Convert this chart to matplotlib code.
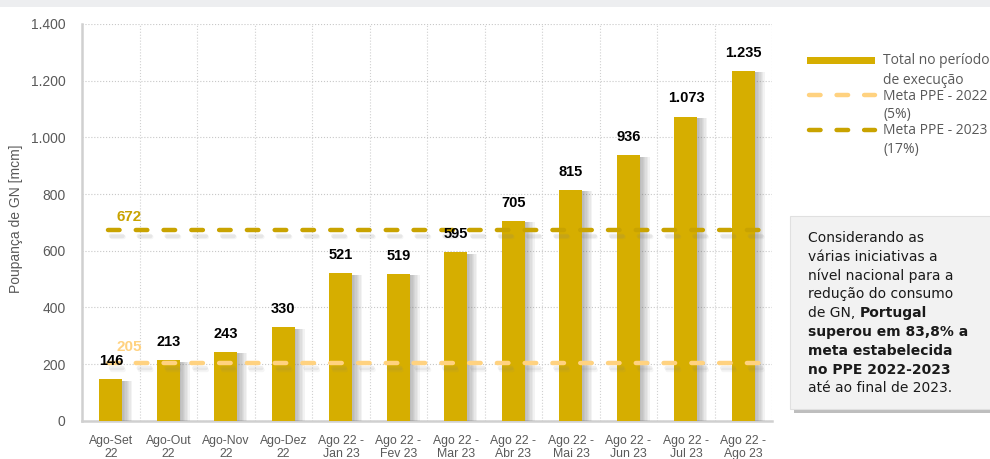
import matplotlib
matplotlib.use("Agg")
import matplotlib.pyplot as plt
import matplotlib.patheffects as pe
from matplotlib.patches import Rectangle
from matplotlib.lines import Line2D
from matplotlib.text import Annotation
from matplotlib.ticker import FuncFormatter

# data
categories = ["Ago-Set\n22", "Ago-Out\n22", "Ago-Nov\n22", "Ago-Dez\n22",
              "Ago 22 -\nJan 23", "Ago 22 -\nFev 23", "Ago 22 -\nMar 23",
              "Ago 22 -\nAbr 23", "Ago 22 -\nMai 23", "Ago 22 -\nJun 23",
              "Ago 22 -\nJul 23", "Ago 22 -\nAgo 23"]
totals = [146, 213, 243, 330, 521, 519, 595, 705, 815, 936, 1073, 1235]
meta_2022 = 205
meta_2023 = 672
legend_lines = ["Total no período", "de execução", "Meta PPE - 2022", "(5%)",
                "Meta PPE - 2023", "(17%)"]

BAR_COLOR  = "#D6AE00"
M22_COLOR  = "#FFD280"
M23_COLOR  = "#C9A300"
GRAY_TEXT  = "#595959"
H, W = 459, 990

plt.rcParams["font.family"] = ["Liberation Sans", "DejaVu Sans"]


def thousands(v, _pos=None):
    return f"{int(v):,}".replace(",", ".")


def fy(py):
    return 1 - py / H


fig = plt.figure(figsize=(9.9, 4.59), dpi=100)
ax = fig.add_axes([0.083, 0.083, 0.697, 0.865])

x = list(range(len(categories)))
bars = ax.bar(x, totals, width=0.4, color=BAR_COLOR, zorder=3)
bar_shadow = [pe.SimplePatchShadow(offset=(k, -1), shadow_rgbFace="#606060", alpha=0.07)
              for k in range(1, 8)] + [pe.Normal()]
for b in bars:
    b.set_path_effects(bar_shadow)

for xi, v in zip(x, totals):
    ax.annotate(thousands(v), (xi, v), xytext=(0, 8), textcoords="offset points",
                ha="center", va="bottom", fontsize=10.5, fontweight="bold", color="black", zorder=6)

line_x = [-0.05, len(categories) - 0.55]
line_shadow = [pe.SimpleLineShadow(offset=(2, -4), shadow_color="#808080", alpha=0.12),
               pe.SimpleLineShadow(offset=(3, -5), shadow_color="#808080", alpha=0.08),
               pe.Normal()]
DASH = (2.6, 3.65)
ax.plot(line_x, [meta_2022] * 2, color=M22_COLOR, lw=3.2, dashes=DASH,
        dash_capstyle="round", zorder=5, path_effects=line_shadow)
ax.plot(line_x, [meta_2023] * 2, color=M23_COLOR, lw=3.2, dashes=DASH,
        dash_capstyle="round", zorder=4, path_effects=line_shadow)
ax.text(0.1, meta_2022 + 30, str(meta_2022), color=M22_COLOR, fontsize=11,
        fontweight="bold", ha="left", va="bottom", zorder=6)
ax.text(0.1, meta_2023 + 22, str(meta_2023), color=M23_COLOR, fontsize=11,
        fontweight="bold", ha="left", va="bottom", zorder=6)

ax.set_xlim(-0.5, len(categories) - 0.5)
ax.set_ylim(0, 1400)
ax.set_yticks(range(0, 1401, 200))
ax.yaxis.set_major_formatter(FuncFormatter(thousands))
ax.set_xticks(x)
ax.set_xticklabels(categories, fontsize=8.8, color=GRAY_TEXT, linespacing=1.15)
ax.set_xticks([i + 0.5 for i in x], minor=True)
ax.tick_params(axis="y", labelsize=10, colors=GRAY_TEXT, length=0, pad=12)
ax.tick_params(axis="x", which="both", length=0, pad=10)
ax.grid(axis="y", which="major", color="#C8C8C8", linestyle=":", lw=0.8, zorder=0)
ax.grid(axis="x", which="minor", color="#D0D0D0", linestyle=":", lw=0.8, zorder=0)
ax.set_ylabel("Poupança de GN [mcm]", fontsize=10, color=GRAY_TEXT)
ax.yaxis.set_label_coords(-0.086, 0.51)
for side in ["top", "right"]:
    ax.spines[side].set_visible(False)
for side in ["left", "bottom"]:
    ax.spines[side].set_color("#D0D0D0")
    ax.spines[side].set_linewidth(1.8)

# top band (cropped title bar)
fig.add_artist(Rectangle((0, fy(7)), 1, 7 / H, transform=fig.transFigure,
                         facecolor="#EDEEF0", edgecolor="none"))

# legend, drawn by hand
fig.add_artist(Rectangle((807 / W, fy(64)), 68 / W, 7 / H, transform=fig.transFigure,
                         facecolor=BAR_COLOR, edgecolor="none"))
for py, color in [(95, M22_COLOR), (130, M23_COLOR)]:
    fig.add_artist(Line2D([809 / W, 875 / W], [fy(py)] * 2, transform=fig.transFigure,
                          color=color, lw=3.2, dashes=(2.6, 3.6), dash_capstyle="round"))
for py, txt in zip([61, 80, 96, 115, 131, 149], legend_lines):
    fig.text(883 / W, fy(py), txt, fontsize=10, color=GRAY_TEXT, va="center", ha="left",
             family=["Open Sans", "DejaVu Sans"])

# note box
box = Rectangle((0.798, 0.11), 0.21, 0.42, transform=fig.transFigure,
                facecolor="#F2F2F2", edgecolor="#E0E0E0", lw=0.8)
box.set_path_effects([pe.SimplePatchShadow(offset=(3, -3), shadow_rgbFace="#7F7F7F", alpha=0.5),
                      pe.Normal()])
fig.add_artist(box)

note_lines = [
    ("Considerando as", ""),
    ("várias iniciativas a", ""),
    ("nível nacional para a", ""),
    ("redução do consumo", ""),
    ("de GN, ", "Portugal"),
    ("", "superou em 83,8% a"),
    ("", "meta estabelecida"),
    ("", "no PPE 2022-2023"),
    ("até ao final de 2023.", ""),
]
y0, dy = fy(238), 18.8 / H
font = dict(fontsize=10, color="#1A1A1A", va="center", ha="left", family="DejaVu Sans")
for i, (normal, bold) in enumerate(note_lines):
    yy = y0 - i * dy
    if normal:
        t = fig.text(0.816, yy, normal, **font)
        if bold:
            fig.add_artist(Annotation(bold, xy=(1, 0.5), xycoords=t, fontweight="bold",
                                      annotation_clip=False, **font))
    else:
        fig.text(0.816, yy, bold, fontweight="bold", **font)

fig.savefig("out.png", dpi=100)
